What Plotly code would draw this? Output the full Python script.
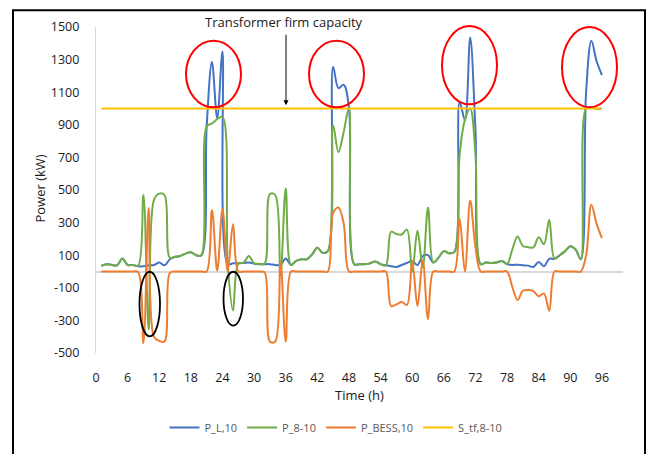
import plotly.graph_objects as go

hours = list(range(1, 97))

p_l = [35, 45, 40, 38, 80, 40, 40, 32, 32, 38, 40, 55, 38, 75, 90, 95,
       110, 118, 100, 100, 890, 1285, 940, 1350, 45, 50, 50, 52, 55, 48, 45, 45,
       45, 40, 40, 80, 40, 65, 75, 75, 105, 145, 115, 125, 1255, 1125, 1145, 1005,
       45, 45, 45, 50, 62, 45, 38, 32, 28, 40, 52, 65, 40, 95, 100, 55,
       85, 125, 112, 120, 1040, 930, 1435, 870, 45, 55, 52, 55, 65, 45, 40, 42,
       38, 36, 28, 58, 32, 78, 78, 100, 125, 155, 135, 75, 1100, 1415, 1290, 1205]

p_8_10 = [35, 45, 40, 38, 80, 40, 40, 35, 470, -355, 440, 478, 468, 85, 90, 95,
          110, 118, 100, 100, 890, 908, 935, 948, 45, -240, 48, 55, 95, 50, 48, 48,
          475, 470, -25, 510, 40, 65, 75, 75, 105, 145, 115, 125, 895, 732, 855, 1005,
          45, 45, 45, 50, 62, 45, 38, 244, 230, 227, 257, 0, 250, 25, 392, 55,
          85, 125, 112, 120, 717, 930, 1000, 720, 45, 55, 52, 55, 65, 45, 135, 215,
          156, 149, 148, 210, 167, 318, 78, 100, 125, 155, 135, 75, 1000, 1005, 998, 1000]

p_bess = [0, 0, 0, 0, 0, 0, 0, -3, -440, 390, -400, -425, -430, -10, 0, 0,
          0, 0, 0, 0, 0, 378, 5, 383, 0, 290, 0, 0, 0, 0, 0, -5,
          -430, -430, 65, -430, 0, 0, 0, 0, 0, 0, 0, 0, 360, 393, 294, 0,
          0, 0, 0, 0, 0, 0, 0, -212, -202, -187, -205, 65, -212, 70, -292, 0,
          0, 0, 0, 0, 323, 0, 436, 150, 0, 0, 0, 0, 0, 0, -95, -175,
          -118, -113, -120, -152, -135, -240, 0, 0, 0, 0, 0, 0, 100, 410, 292, 205]

s_tf = [1000] * 96

x_ticks = list(range(0, 97, 6))
y_ticks = list(range(-500, 1501, 200))

series_names = ["P_L,10", "P_8-10", "P_BESS,10", "S_tf,8-10"]
series_colors = ["#4472C4", "#70AD47", "#ED7D31", "#FFC000"]

W, H = 655, 454
ML, MR, MT, MB = 96, 32, 27, 94
PW = W - ML - MR
PH = H - MT - MB


def px(x):
    return (x - ML) / PW


def py(y):
    return (H - MB - y) / PH


fig = go.Figure()
for name, data, col in zip(series_names, [p_l, p_8_10, p_bess, s_tf], series_colors):
    fig.add_trace(go.Scatter(
        x=hours, y=data, name=name, mode="lines",
        line=dict(color=col, width=2, shape="spline", smoothing=1.0),
    ))

font_main = "Open Sans, Liberation Sans, sans-serif"

fig.update_layout(
    width=W, height=H,
    margin=dict(l=ML, r=MR, t=MT, b=MB, pad=0),
    paper_bgcolor="white", plot_bgcolor="white",
    font=dict(family=font_main, size=12.5, color="#1a1a1a"),
    showlegend=True,
    legend=dict(orientation="h", x=px(336), xanchor="center", y=py(436), yanchor="middle",
                font=dict(size=11, color="#595959"), bgcolor="rgba(0,0,0,0)",
                itemwidth=30, tracegroupgap=0),
    xaxis=dict(range=[0, 100], tickvals=x_ticks, ticktext=[str(v) for v in x_ticks],
               showgrid=False, zeroline=False, showline=False, ticks="",
               ticklabelstandoff=15, tickfont=dict(size=12.5, color="#1a1a1a")),
    yaxis=dict(range=[-500, 1500], tickvals=y_ticks, ticktext=[str(v) for v in y_ticks],
               showgrid=False, zeroline=True, zerolinecolor="#d9d9d9", zerolinewidth=1.5,
               showline=True, linecolor="#d9d9d9", linewidth=1.2, ticks="",
               ticklabelstandoff=13, tickfont=dict(size=12.5, color="#1a1a1a")),
)

annotations = [
    dict(text="Power (kW)", x=px(40), y=py(192), xref="paper", yref="paper",
         xanchor="center", yanchor="middle",
         showarrow=False, textangle=-90, font=dict(size=13, color="#1a1a1a")),
    dict(text="Time (h)", x=px(359), y=py(403), xref="paper", yref="paper",
         xanchor="center", yanchor="middle",
         showarrow=False, font=dict(size=13, color="#1a1a1a")),
    dict(text="Transformer firm capacity", x=px(284), y=py(22), xref="paper", yref="paper",
         xanchor="center", yanchor="middle",
         showarrow=False, font=dict(size=13, color="#1a1a1a")),
    dict(text="", x=px(286), y=py(107), xref="paper", yref="paper",
         showarrow=True, ax=0, ay=-72, arrowhead=2, arrowsize=1, arrowwidth=1,
         arrowcolor="black"),
]
fig.update_layout(annotations=annotations)

shapes = [
    # outer frame
    dict(type="rect", xref="paper", yref="paper", x0=px(13), x1=px(645), y0=py(470), y1=py(10),
         line=dict(color="black", width=2), fillcolor="rgba(0,0,0,0)", layer="above"),
]
red_ellipses = [(186, 241, 41, 109), (309, 364, 41, 109), (442, 497, 26, 106), (562, 617, 27, 109)]
for x0, x1, y0, y1 in red_ellipses:
    shapes.append(dict(type="circle", xref="paper", yref="paper", x0=px(x0), x1=px(x1),
                       y0=py(y1), y1=py(y0), line=dict(color="#ff0000", width=2), layer="above"))
black_ellipses = [(139.5, 160, 277, 343), (223.5, 243, 277, 332)]
for x0, x1, y0, y1 in black_ellipses:
    shapes.append(dict(type="circle", xref="paper", yref="paper", x0=px(x0), x1=px(x1),
                       y0=py(y1), y1=py(y0), line=dict(color="black", width=1.8), layer="above"))
fig.update_layout(shapes=shapes)

fig.write_html("out.html")
